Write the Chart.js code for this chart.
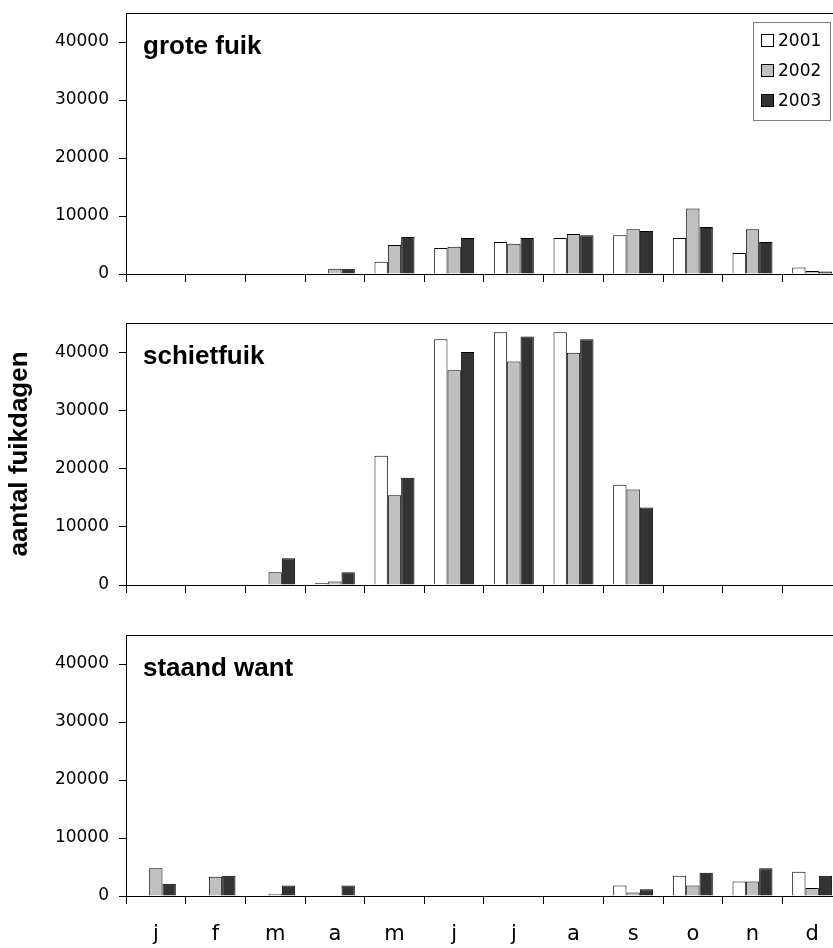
<!DOCTYPE html>
<html>
<head>
<meta charset="utf-8">
<script src="https://cdn.jsdelivr.net/npm/chart.js@4.4.1/dist/chart.umd.min.js"></script>
<style>
  html, body { margin: 0; padding: 0; overflow: hidden; background: #fff; }
  body { position: relative; width: 833px; height: 948px; }
  canvas { position: absolute; left: 0; }
</style>
</head>
<body>
<canvas id="grote" width="850" height="284" style="top:0px"></canvas>
<canvas id="schiet" width="850" height="285" style="top:310px"></canvas>
<canvas id="staand" width="850" height="326" style="top:622px"></canvas>
<script>
// months along the bottom, one bar per year
let months = ["j", "f", "m", "a", "m", "j", "j", "a", "s", "o", "n", "d"];
let years = ["2001", "2002", "2003"];
let yearColors = ["#ffffff", "#c0c0c0", "#333333"];
let yTicks = [0, 10000, 20000, 30000, 40000];

// grote fuik
let grote2001 = [0, 0, 0, 0, 2100, 4500, 5500, 6200, 6700, 6200, 3600, 1100];
let grote2002 = [0, 0, 0, 900, 5000, 4700, 5200, 6900, 7700, 11300, 7700, 500];
let grote2003 = [0, 0, 0, 900, 6400, 6200, 6200, 6700, 7400, 8100, 5500, 450];

// schietfuik
let schiet2001 = [0, 0, 0, 300, 22200, 42200, 43400, 43400, 17200, 0, 0, 0];
let schiet2002 = [0, 0, 2200, 600, 15400, 36900, 38400, 39900, 16400, 0, 0, 0];
let schiet2003 = [0, 0, 4600, 2200, 18400, 40000, 42700, 42200, 13300, 0, 0, 0];

// staand want
let staand2001 = [0, 0, 0, 0, 0, 0, 0, 0, 1800, 3500, 2500, 4200];
let staand2002 = [4800, 3300, 400, 0, 0, 0, 0, 0, 600, 1800, 2500, 1400];
let staand2003 = [2100, 3500, 1800, 1800, 0, 0, 0, 0, 1150, 4000, 4800, 3500];

let plainFont = "'DejaVu Sans', sans-serif";
let boldFont = "bold 26px 'Liberation Sans', Arial, sans-serif";

// frame top line, panel name and the legend box on the first panel
const panelDecor = {
  id: "panelDecor",
  afterDraw(chart, args, opts) {
    const ctx = chart.ctx, a = chart.chartArea;
    ctx.save();
    ctx.strokeStyle = "#000";
    ctx.lineWidth = 1;
    ctx.beginPath();
    ctx.moveTo(a.left, Math.round(a.top) + 0.5);
    ctx.lineTo(a.right, Math.round(a.top) + 0.5);
    ctx.stroke();

    ctx.fillStyle = "#000";
    ctx.font = boldFont;
    ctx.textBaseline = "alphabetic";
    ctx.fillText(opts.name, a.left + 17, a.top + 41);

    if (opts.legend) {
      ctx.strokeStyle = "#808080";
      ctx.strokeRect(753.5, 22.5, 77, 98);
      ctx.font = "17px " + plainFont;
      ctx.textBaseline = "middle";
      chart.data.datasets.forEach((ds, i) => {
        let y = 41 + 30 * i;
        ctx.fillStyle = ds.backgroundColor;
        ctx.fillRect(761.5, y - 6.5, 12, 12);
        ctx.strokeStyle = "#000";
        ctx.strokeRect(761.5, y - 6.5, 12, 12);
        ctx.fillStyle = "#000";
        ctx.fillText(ds.label, 778, y + 1);
      });
    }
    ctx.restore();
  }
};

function makePanel(id, name, series, bottomRoom, showMonths, yTitle, legend) {
  new Chart(document.getElementById(id), {
    type: "bar",
    data: {
      labels: months,
      datasets: years.map((y, i) => ({
        label: y,
        data: series[i],
        backgroundColor: yearColors[i],
        borderColor: "#000",
        borderWidth: 1,
        categoryPercentage: 0.67,
        barPercentage: 1
      }))
    },
    options: {
      responsive: false,
      animation: false,
      layout: { padding: { top: 13, right: 8, left: 0, bottom: 0 } },
      plugins: {
        legend: { display: false },
        tooltip: { enabled: false },
        panelDecor: { name: name, legend: legend }
      },
      scales: {
        x: {
          grid: { drawOnChartArea: false, drawTicks: true, tickLength: 8, color: "#000" },
          border: { display: true, color: "#000", width: 1 },
          ticks: {
            display: showMonths, color: "#000", padding: 18,
            font: { family: plainFont, size: 21 },
            maxRotation: 0, autoSkip: false
          },
          afterFit(s) {
            s.height = bottomRoom;
            s.paddingLeft = 0;
            s.paddingRight = 0;
          }
        },
        y: {
          min: 0,
          max: 45000,
          grid: { drawOnChartArea: false, tickLength: 7, color: "#000" },
          border: { display: true, color: "#000", width: 1 },
          ticks: {
            color: "#000", padding: 10,
            font: { family: plainFont, size: 17 },
            callback: v => String(v)
          },
          afterBuildTicks(s) { s.ticks = yTicks.map(v => ({ value: v })); },
          title: {
            display: !!yTitle, text: yTitle || "", color: "#000",
            font: { family: "'Liberation Sans', Arial, sans-serif", size: 26, weight: "bold" },
            padding: { top: 4, bottom: 0 }
          },
          afterFit(s) {
            s.width = 126;
            s.paddingTop = 0;
            s.paddingBottom = 0;
          }
        }
      }
    },
    plugins: [panelDecor]
  });
}

makePanel("grote", "grote fuik", [grote2001, grote2002, grote2003], 10, false, null, true);
makePanel("schiet", "schietfuik", [schiet2001, schiet2002, schiet2003], 10, false, "aantal fuikdagen", false);
makePanel("staand", "staand want", [staand2001, staand2002, staand2003], 52, true, null, false);
</script>
</body>
</html>
